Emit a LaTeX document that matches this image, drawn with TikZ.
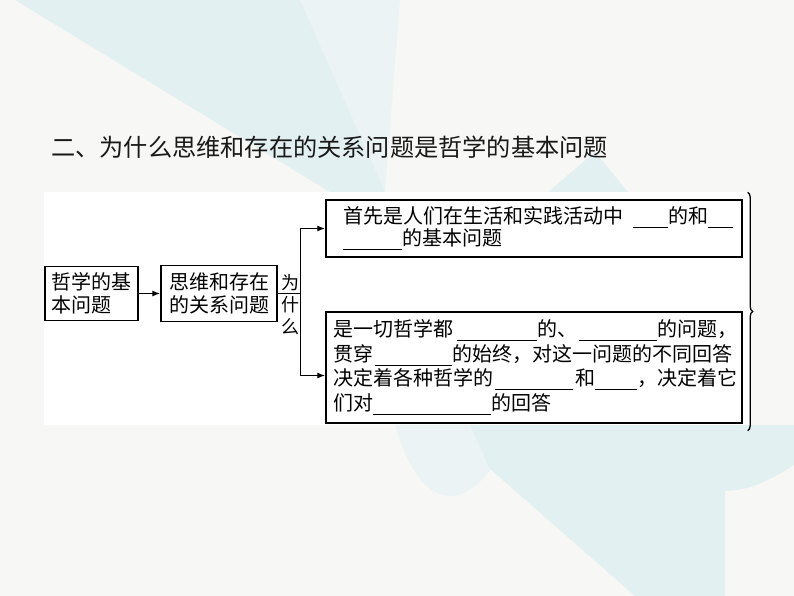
\documentclass[tikz,border=0pt]{standalone}
\usepackage{fontspec}
\setmainfont{Noto Sans CJK SC}
\usetikzlibrary{calc,arrows.meta,decorations.pathreplacing}

\definecolor{pagebg}{RGB}{247,247,246}
\definecolor{tealA}{RGB}{226,240,241}
\definecolor{tealB}{RGB}{236,243,244}
\definecolor{titlecol}{RGB}{25,25,25}

% blank to fill in
\newcommand{\blank}[1]{\rule[-4.5pt]{#1pt}{1.3pt}}

\begin{document}
\begin{tikzpicture}[x=1pt,y=-1pt,
    box/.style={draw=black,line width=1.4pt,fill=white,inner ysep=0pt,
        align=left,font=\fontsize{20}{23}\selectfont},
    arr/.style={-{Latex[length=8pt,width=6pt]},line width=1.3pt},
    brc/.style={decorate,decoration={brace,amplitude=5pt},line width=1.3pt}]

        % Background
        \fill[pagebg] (0,0) rectangle (794,596);
        \useasboundingbox (0,0) rectangle (794,596);
        \fill[tealB] (300,0) -- (400,0) -- (385,192) -- cycle;
        \fill[tealA] (15,0) -- (300,0) -- (385,192) -- (330,192) -- cycle;
        \fill[tealA] (548,192) -- (595,152) -- (628,192) -- cycle;
        \fill[tealA] (440,425) -- (725,425) -- (725,596) -- (635,596) -- cycle;
        \fill[tealB] (395,425) .. controls (420,510) and (460,510) .. (490,470)
            -- (470,425) -- cycle;
        \fill[tealA] (665,425) .. controls (690,510) and (740,500) .. (794,465)
            -- (794,425) -- cycle;

        % Panel
        \fill[white] (44,192) rectangle (750,425);

        % Title
        \node[anchor=west,inner sep=0pt,text=titlecol,
            font=\fontsize{24.2}{24.2}\selectfont] (title) at (51,147)
            {二、为什么思维和存在的关系问题是哲学的基本问题};

        % Boxes
        \node[box,minimum width=93pt,minimum height=54pt,
            text width=80pt,inner xsep=6.5pt] (basic) at (91.5,293.5)
            {哲学的基\\本问题};
        \node[box,minimum width=116pt,minimum height=56pt,
            text width=100pt,inner xsep=8pt] (relation) at (219,293.5)
            {思维和存在\\的关系问题};
        \node[box,minimum width=416pt,minimum height=57pt,
            text width=382pt,inner xsep=17pt,
            font=\fontsize{20}{22}\selectfont] (first) at (534,228.5)
            {\mbox{首先是人们在生活和实践活动中\hspace{10pt}\blank{35}的和\blank{25}}\\
             \mbox{\blank{59}的基本问题}};
        \node[box,minimum width=416pt,minimum height=111pt,
            text width=402pt,inner xsep=7pt,
            font=\fontsize{20}{24.5}\selectfont] (second) at (534,367.5)
            {\mbox{是一切哲学都\hspace{4pt}\blank{80}的、\hspace{2pt}\blank{78}的问题，}\\
             \mbox{贯穿\hspace{2pt}\blank{77}的始终，对这一问题的不同回答}\\
             \mbox{决定着各种哲学的\hspace{2pt}\blank{78}\hspace{2pt}和\blank{42}，决定着它}\\
             \mbox{们对\blank{118}的回答}};

        % Why
        \node[inner sep=0pt,align=center,
            font=\fontsize{18}{22}\selectfont] (why) at (290,305) {为\\什\\么};

        % Connectors
        \coordinate (fork) at ($(relation.east)+(23,0)$);
        \draw[arr] (basic) -- (relation);
        \draw[arr] (relation.east) -- (fork) |- (first.west);
        \draw[arr] (fork) |- ($(second.west)+(0,8)$);

        % Brace
        \draw[brc] ([xshift=5pt,yshift=7pt]first.north east)
            -- ([xshift=5pt,yshift=-7pt]second.south east);
\end{tikzpicture}
\end{document}
